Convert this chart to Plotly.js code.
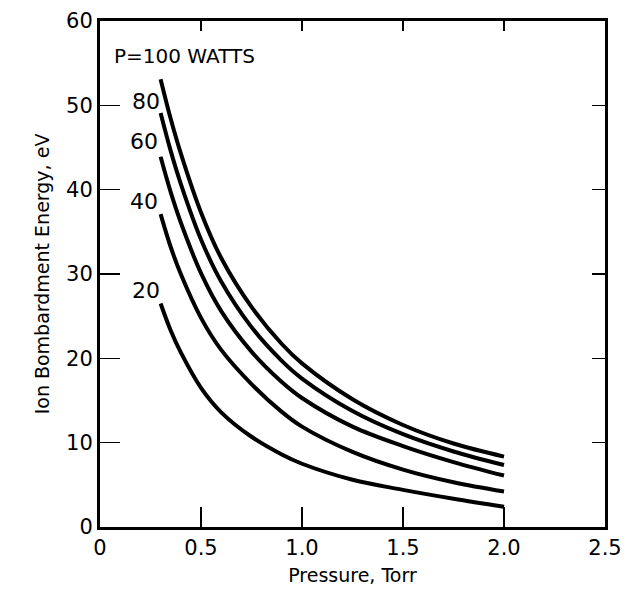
<!DOCTYPE html>
<html>
<head>
<meta charset="utf-8">
<script src="https://cdn.plot.ly/plotly-3.0.1.min.js"></script>
<style>html,body{margin:0;padding:0;background:#fff;}</style>
</head>
<body>
<div id="chart" style="width:632px;height:591px;"></div>
<script>
// Pressure (Torr) sample points
const pressure = [0.30, 0.35, 0.40, 0.50, 0.60, 0.75, 0.90, 1.00, 1.25, 1.50, 1.75, 2.00];
// Ion bombardment energy (eV) for each RF power level
const e100 = [53.1, 48.4, 44.3, 37.3, 31.9, 26.1, 21.7, 19.4, 15.15, 12.1, 9.9, 8.35];
const e80  = [49.1, 44.6, 40.7, 34.1, 29.1, 23.7, 19.7, 17.6, 13.75, 11.0, 8.95, 7.35];
const e60  = [43.9, 39.7, 36.1, 30.1, 25.6, 20.8, 17.2, 15.3, 11.9, 9.6, 7.7, 6.1];
const e40  = [37.1, 33.2, 30.0, 24.8, 21.0, 16.95, 13.65, 11.9, 8.9, 6.8, 5.3, 4.2];
const e20  = [26.5, 23.3, 20.7, 16.5, 13.6, 10.7, 8.6, 7.5, 5.6, 4.4, 3.35, 2.4];

const seriesNames = ['100 W', '80 W', '60 W', '40 W', '20 W'];
const seriesVals = [e100, e80, e60, e40, e20];

// Curve labels
const labelText = ['P=100 WATTS', '80', '60', '40', '20'];
const labelX = [0.06, 0.23, 0.22, 0.22, 0.23];
const labelY = [55.8, 50.4, 45.7, 38.6, 28.1];

const xTickVals = [0, 0.5, 1.0, 1.5, 2.0, 2.5];
const xTickText = ['0', '0.5', '1.0', '1.5', '2.0', '2.5'];
const yTickVals = [0, 10, 20, 30, 40, 50, 60];

const FONT = 'DejaVu Sans, Verdana, sans-serif';

const traces = seriesVals.map((v, i) => ({
  x: pressure, y: v, name: seriesNames[i], type: 'scatter', mode: 'lines',
  line: {color: '#000', width: 4, shape: 'spline', smoothing: 1},
  hoverinfo: 'x+y'
}));
// empty traces so the top and right tick-only axes get drawn
traces.push({x: [], y: [], xaxis: 'x2', yaxis: 'y', type: 'scatter', mode: 'lines', showlegend: false});
traces.push({x: [], y: [], xaxis: 'x', yaxis: 'y2', type: 'scatter', mode: 'lines', showlegend: false});

const annotations = labelText.map((t, i) => ({
  x: labelX[i], y: labelY[i], xref: 'x', yref: 'y', text: t, showarrow: false,
  xanchor: i === 0 ? 'left' : 'center', yanchor: 'middle',
  font: {family: FONT, size: i === 0 ? 20 : 22, color: '#000'}
}));

const layout = {
  width: 632, height: 591,
  margin: {l: 100, r: 27, t: 21, b: 64},
  paper_bgcolor: '#fff', plot_bgcolor: '#fff',
  showlegend: false,
  font: {family: FONT, color: '#000'},
  xaxis: {
    range: [0, 2.5], tickvals: xTickVals, ticktext: xTickText,
    ticks: 'inside', ticklen: 20, tickwidth: 1.5, tickcolor: '#000',
    showline: true, linewidth: 3, linecolor: '#000', mirror: true,
    showgrid: false, zeroline: false,
    tickfont: {family: FONT, size: 21, color: '#000'},
    title: {text: 'Pressure, Torr', font: {family: FONT, size: 19, color: '#000'}, standoff: 10}
  },
  xaxis2: {
    range: [0, 2.5], tickvals: xTickVals, overlaying: 'x', side: 'top', anchor: 'y',
    ticks: 'inside', ticklen: 10, tickwidth: 1.5, tickcolor: '#000',
    showticklabels: false, showline: false, showgrid: false, zeroline: false
  },
  yaxis: {
    range: [0, 60], tickvals: yTickVals,
    ticks: 'inside', ticklen: 20, tickwidth: 1.5, tickcolor: '#000',
    showline: true, linewidth: 3, linecolor: '#000', mirror: true,
    showgrid: false, zeroline: false,
    tickfont: {family: FONT, size: 21, color: '#000'},
    title: {text: 'Ion Bombardment Energy, eV', font: {family: FONT, size: 19, color: '#000'}, standoff: 12}
  },
  yaxis2: {
    range: [0, 60], tickvals: yTickVals, overlaying: 'y', side: 'right', anchor: 'x',
    ticks: 'inside', ticklen: 13, tickwidth: 1.5, tickcolor: '#000',
    showticklabels: false, showline: false, showgrid: false, zeroline: false
  },
  annotations: annotations
};

Plotly.newPlot('chart', traces, layout, {displayModeBar: false, staticPlot: true});
</script>
</body>
</html>
